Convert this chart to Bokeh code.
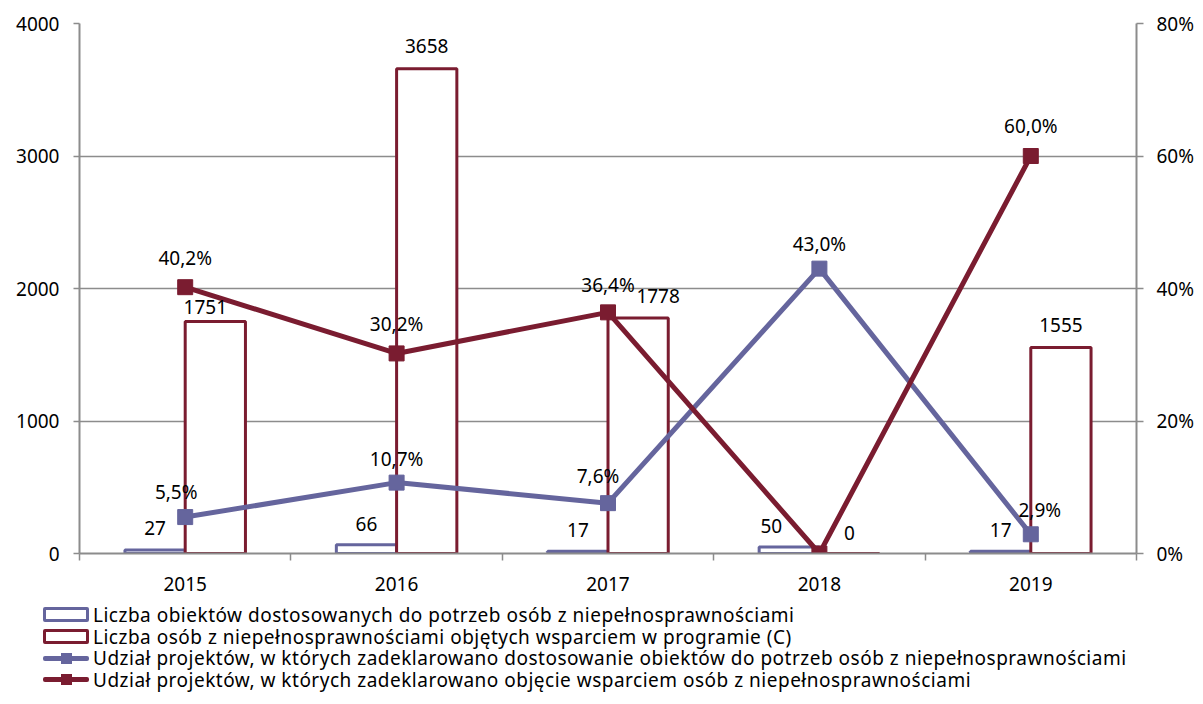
from bokeh.plotting import figure
from bokeh.models import ColumnDataSource, Range1d, LinearAxis, FixedTicker, Div
from bokeh.layouts import column
from bokeh.embed import file_html
from bokeh.resources import INLINE
from bokeh.core.properties import value

# ---- data ----
years = ["2015", "2016", "2017", "2018", "2019"]
obiekty = [27, 66, 17, 50, 17]                 # Liczba obiektów (left axis)
osoby = [1751, 3658, 1778, 0, 1555]            # Liczba osób (left axis)
udzial_obiekty = [5.5, 10.7, 7.6, 43.0, 2.9]   # % (right axis)
udzial_osoby = [40.2, 30.2, 36.4, 0.0, 60.0]   # % (right axis)

left_ticks = [0, 1000, 2000, 3000, 4000]
right_ticks = [0, 20, 40, 60, 80]

legend_labels = [
    "Liczba obiektów dostosowanych do potrzeb osób z niepełnosprawnościami",
    "Liczba osób z niepełnosprawnościami objętych wsparciem w programie (C)",
    "Udział projektów, w których zadeklarowano dostosowanie obiektów do potrzeb osób z niepełnosprawnościami",
    "Udział projektów, w których zadeklarowano objęcie wsparciem osób z niepełnosprawnościami",
]

# ---- styling ----
BLUE = "#65659D"
RED = "#7A1C30"
GREY = "#8C8C8C"
FONT = "Noto Sans"
FS = "19px"
BW = 0.285

# label pixel offsets (styling only)
dx_ob = [0, 0, 0, -18, 0]
dy_ob = [-22, -21, -21, -21, -21]
dx_os = [-10, 0, 20, 0, 0]
dy_os = [-14, -23, -22, -21, -22]
dx_uo = [-9, 0, -10, 0, 9]
dy_uo = [-25, -24, -27, -25, -24]
dx_us = [0, 0, 0, 31, 0]
dy_us = [-29, -29, -27, 9, -30]

idx = [i + 0.5 for i in range(len(years))]


def pct(v):
    return f"{v:.1f}%".replace(".", ",")


src_ob = ColumnDataSource(dict(x=[c - BW / 2 for c in idx], top=obiekty,
                               txt=[str(v) for v in obiekty], dx=dx_ob, dy=dy_ob))
src_os = ColumnDataSource(dict(x=[c + BW / 2 for c in idx], top=osoby,
                               txt=[str(v) for v in osoby], dx=dx_os, dy=dy_os))
src_uo = ColumnDataSource(dict(x=idx, y=udzial_obiekty,
                               txt=[pct(v) for v in udzial_obiekty], dx=dx_uo, dy=dy_uo))
src_us = ColumnDataSource(dict(x=idx, y=udzial_osoby,
                               txt=[pct(v) for v in udzial_osoby], dx=dx_us, dy=dy_us))

p = figure(frame_width=1057, frame_height=530, x_range=Range1d(0, len(years)),
           y_range=Range1d(left_ticks[0], left_ticks[-1]),
           output_backend="svg", toolbar_location=None,
           min_border_left=79, min_border_right=64, min_border_top=23,
           min_border_bottom=50)
p.extra_y_ranges = {"pct": Range1d(right_ticks[0], right_ticks[-1])}
p.outline_line_color = None
p.background_fill_color = "white"

# grid
p.xgrid.grid_line_color = None
p.ygrid.grid_line_color = GREY
p.ygrid.grid_line_width = 1.5
p.ygrid.ticker = FixedTicker(ticks=left_ticks)

# x axis
xa = p.xaxis[0]
xa.ticker = FixedTicker(ticks=idx, minor_ticks=list(range(len(years) + 1)))
xa.major_label_overrides = {c: y for c, y in zip(idx, years)}
xa.major_tick_line_color = None
xa.major_tick_out = 0
xa.major_tick_in = 0
xa.minor_tick_line_color = GREY
xa.minor_tick_line_width = 1.5
xa.minor_tick_out = 7
xa.minor_tick_in = 0
xa.axis_line_color = GREY
xa.axis_line_width = 2
xa.major_label_standoff = 16
xa.major_label_text_font = FONT
xa.major_label_text_font_size = FS
xa.major_label_text_color = "black"

# left axis
ya = p.yaxis[0]
ya.ticker = FixedTicker(ticks=left_ticks)
ya.minor_tick_line_color = None
ya.major_tick_out = 6
ya.major_tick_in = 0
ya.major_tick_line_color = GREY
ya.major_tick_line_width = 1.5
ya.axis_line_color = GREY
ya.axis_line_width = 2
ya.major_label_standoff = 14
ya.major_label_text_font = FONT
ya.major_label_text_font_size = FS
ya.major_label_text_color = "black"

# right axis
ra = LinearAxis(y_range_name="pct", ticker=FixedTicker(ticks=right_ticks))
ra.major_label_overrides = {t: f"{t}%" for t in right_ticks}
ra.minor_tick_line_color = None
ra.major_tick_out = 7
ra.major_tick_in = 0
ra.major_tick_line_color = GREY
ra.major_tick_line_width = 1.5
ra.axis_line_color = GREY
ra.axis_line_width = 2
ra.major_label_standoff = 13
ra.major_label_text_font = FONT
ra.major_label_text_font_size = FS
ra.major_label_text_color = "black"
p.add_layout(ra, "right")

# bars
p.vbar(x="x", top="top", width=BW, source=src_ob, fill_color="white",
       line_color=BLUE, line_width=3)
p.vbar(x="x", top="top", width=BW, source=src_os, fill_color="white",
       line_color=RED, line_width=3)

# lines
p.line("x", "y", source=src_uo, y_range_name="pct", line_color=BLUE, line_width=5)
p.scatter("x", "y", source=src_uo, y_range_name="pct", marker="square",
          size=15, fill_color=BLUE, line_color=BLUE)
p.line("x", "y", source=src_us, y_range_name="pct", line_color=RED, line_width=5)
p.scatter("x", "y", source=src_us, y_range_name="pct", marker="square",
          size=15, fill_color=RED, line_color=RED)

# data labels
common = dict(text="txt", x_offset="dx", y_offset="dy", text_align="center",
              text_baseline="middle", text_font=value(FONT), text_font_size=FS,
              text_color="black")
p.text(x="x", y="top", source=src_ob, **common)
p.text(x="x", y="top", source=src_os, **common)
p.text(x="x", y="y", source=src_uo, y_range_name="pct", **common)
p.text(x="x", y="y", source=src_us, y_range_name="pct", **common)


# ---- legend (HTML, below the plot) ----
def bar_swatch(c):
    return (f'<span style="display:inline-block;box-sizing:border-box;width:46px;'
            f'height:15px;border:3px solid {c};border-radius:2px;background:#fff;'
            f'margin-right:4px;flex:none"></span>')


def line_swatch(c):
    return (f'<span style="position:relative;display:inline-block;width:46px;height:15px;'
            f'margin-right:4px;flex:none">'
            f'<span style="position:absolute;left:0;width:46px;top:5px;height:5px;'
            f'background:{c};border-radius:2px"></span>'
            f'<span style="position:absolute;left:18px;top:2px;width:11px;height:11px;'
            f'background:{c}"></span></span>')


swatches = [bar_swatch(BLUE), bar_swatch(RED), line_swatch(BLUE), line_swatch(RED)]
rows = "".join(
    f'<div style="display:flex;align-items:center;height:21.7px;white-space:nowrap">'
    f'{sw}<span style="line-height:20px;letter-spacing:0.5px">{lab}</span></div>'
    for sw, lab in zip(swatches, legend_labels))
legend_html = (f'<div style="font-family:\'{FONT}\';font-size:19px;color:#000;'
               f'padding-left:43px;padding-top:1px">{rows}</div>')
leg = Div(text=legend_html, width=1200, height=98, margin=(0, 0, 0, 0))

layout = column(p, leg, spacing=0)
open("out.html", "w").write(file_html(layout, INLINE))
